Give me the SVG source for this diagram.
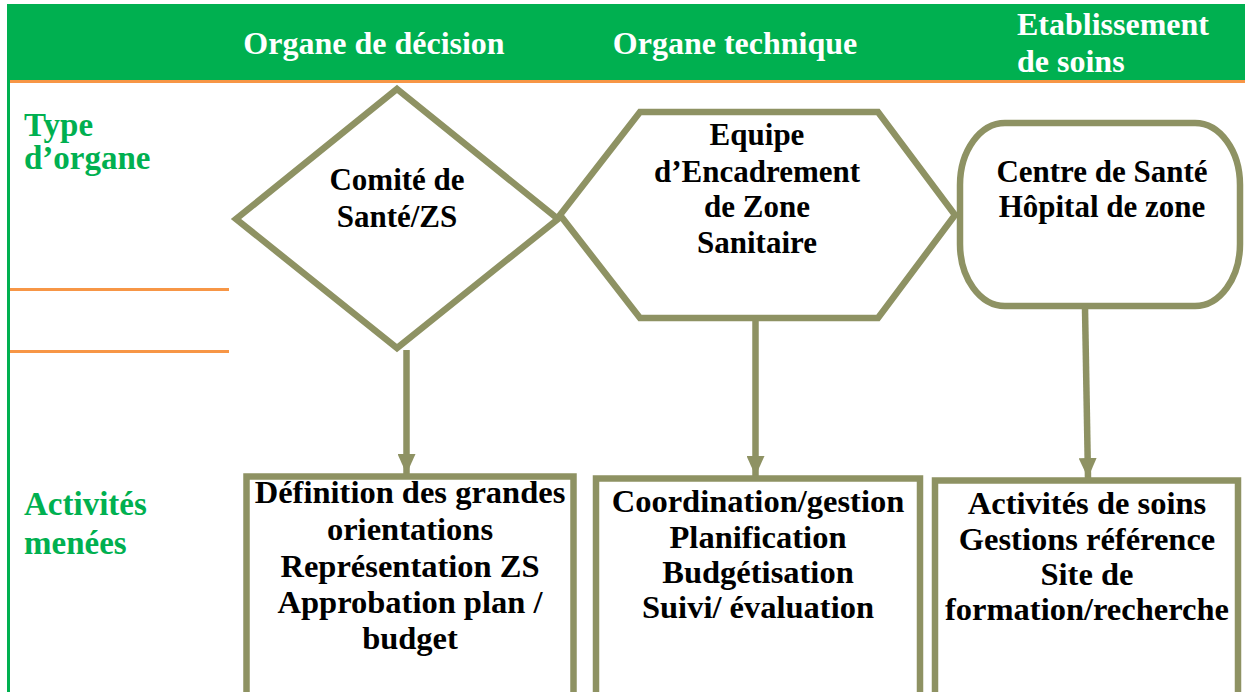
<svg xmlns="http://www.w3.org/2000/svg" width="1245" height="692" viewBox="0 0 1245 692">
<defs>
<style>
.hdr{font-family:"Liberation Serif","DejaVu Serif",serif;font-weight:bold;font-size:32px;fill:#ffffff}
.lbl{font-family:"Liberation Serif","DejaVu Serif",serif;font-weight:bold;font-size:33px;fill:#00B050}
.txt{font-family:"Liberation Serif","DejaVu Serif",serif;font-weight:bold;font-size:31px;fill:#000000;text-anchor:middle}
.btxt{font-family:"Liberation Serif","DejaVu Serif",serif;font-weight:bold;font-size:32.5px;fill:#000000;text-anchor:middle}
.shape{fill:#ffffff;stroke:#8E9263;stroke-width:6.5}
.conn{stroke:#8E9263;stroke-width:6.5;fill:none}
.orange{stroke:#F79646;stroke-width:3}
</style>
<marker id="ah" markerUnits="userSpaceOnUse" markerWidth="22" markerHeight="18" refX="20" refY="9" orient="auto">
<path d="M0,0 L20,9 L0,18 Z" fill="#8E9263"/>
</marker>
</defs>
<rect x="0" y="0" width="1245" height="692" fill="#ffffff"/>
<g id="header">
<rect x="7" y="4" width="1238" height="77" fill="#00B050"/>
<line class="orange" x1="10" y1="81.5" x2="1245" y2="81.5"/>
<rect x="7" y="80" width="3" height="612" fill="#00B050"/>
<line class="orange" x1="10" y1="289.5" x2="229" y2="289.5"/>
<line class="orange" x1="10" y1="351.5" x2="229" y2="351.5"/>
<text class="hdr" x="374" y="54" text-anchor="middle">Organe de décision</text>
<text class="hdr" x="735" y="54" text-anchor="middle">Organe technique</text>
<text class="hdr" x="1017" y="35">Etablissement</text>
<text class="hdr" x="1017" y="72">de soins</text>
</g>
<g id="row-labels">
<text class="lbl" x="24" y="136">Type</text>
<text class="lbl" x="24" y="169">d’organe</text>
<text class="lbl" x="24" y="515">Activités</text>
<text class="lbl" x="24" y="554">menées</text>
</g>
<g id="connectors">
<line class="conn" x1="406.5" y1="350" x2="406.5" y2="474" marker-end="url(#ah)"/>
<line class="conn" x1="755.5" y1="320" x2="755.5" y2="476" marker-end="url(#ah)"/>
<line class="conn" x1="1085" y1="308" x2="1088" y2="478" marker-end="url(#ah)"/>
</g>
<g id="node-comite">
<polygon class="shape" points="397,89 558,219 397,348 236,219"/>
<text class="txt" x="397" y="190">Comité de</text>
<text class="txt" x="397" y="227">Santé/ZS</text>
</g>
<g id="node-equipe">
<polygon class="shape" points="640,112 878,112 955,215 878,318 640,318 560,215"/>
<text class="txt" x="757" y="145">Equipe</text>
<text class="txt" x="757" y="182">d’Encadrement</text>
<text class="txt" x="757" y="217">de Zone</text>
<text class="txt" x="757" y="253">Sanitaire</text>
</g>
<g id="node-centre">
<rect class="shape" x="960" y="123" width="280" height="183" rx="45" ry="62"/>
<text class="txt" x="1102" y="182">Centre de Santé</text>
<text class="txt" x="1102" y="217">Hôpital de zone</text>
</g>
<g id="node-act1">
<rect class="shape" x="246.5" y="476.5" width="327" height="230"/>
<text class="btxt" x="410" y="503">Définition des grandes</text>
<text class="btxt" x="410" y="540">orientations</text>
<text class="btxt" x="410" y="577">Représentation ZS</text>
<text class="btxt" x="410" y="613">Approbation plan /</text>
<text class="btxt" x="410" y="649">budget</text>
</g>
<g id="node-act2">
<rect class="shape" x="596" y="478.5" width="324" height="230"/>
<text class="btxt" x="758" y="512">Coordination/gestion</text>
<text class="btxt" x="758" y="548">Planification</text>
<text class="btxt" x="758" y="583">Budgétisation</text>
<text class="btxt" x="758" y="618">Suivi/ évaluation</text>
</g>
<g id="node-act3">
<rect class="shape" x="935" y="480.5" width="303" height="230"/>
<text class="btxt" x="1087" y="514">Activités de soins</text>
<text class="btxt" x="1087" y="550">Gestions référence</text>
<text class="btxt" x="1087" y="585">Site de</text>
<text class="btxt" x="1087" y="620">formation/recherche</text>
</g>
</svg>
